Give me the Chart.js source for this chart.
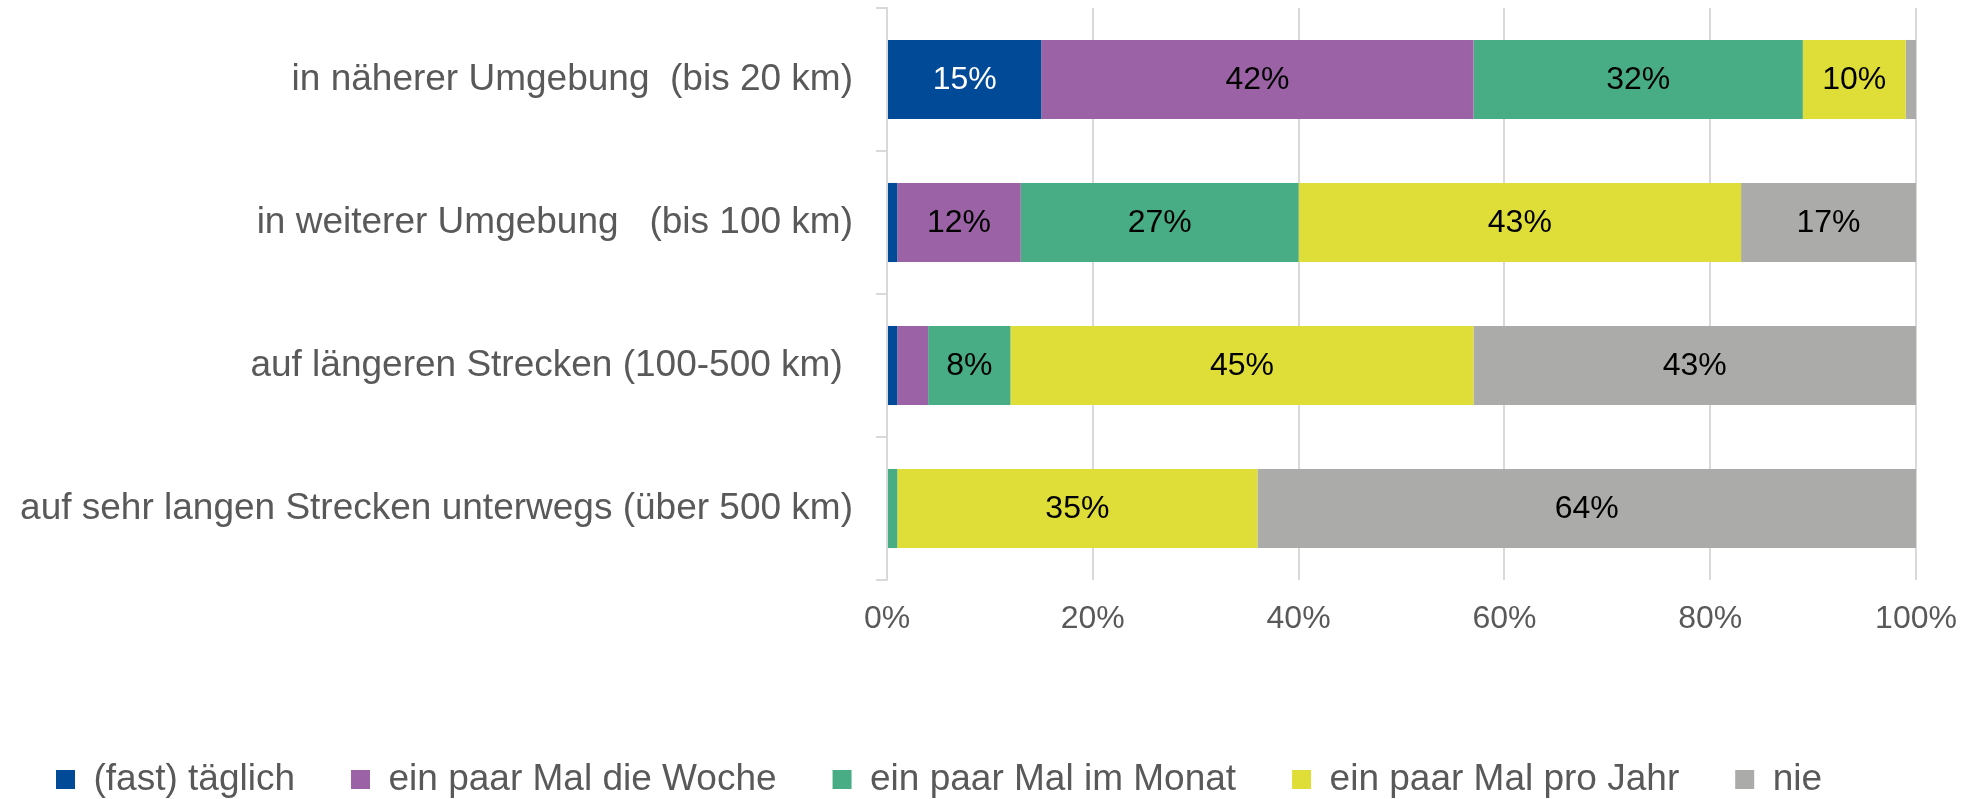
<!DOCTYPE html>
<html>
<head>
<meta charset="utf-8">
<title>Unterwegs</title>
<script src="https://cdn.jsdelivr.net/npm/chart.js@4/dist/chart.umd.min.js"></script>
<style>
    body { margin: 0; background: #ffffff; }
    canvas { display: block; }
</style>
</head>
<body>
<canvas id="chart" width="1974" height="799"></canvas>
<script>
let categories = [
    "in näherer Umgebung  (bis 20 km)",
    "in weiterer Umgebung   (bis 100 km)",
    "auf längeren Strecken (100-500 km) ",
    "auf sehr langen Strecken unterwegs (über 500 km)"
];

let seriesNames = ["(fast) täglich", "ein paar Mal die Woche", "ein paar Mal im Monat", "ein paar Mal pro Jahr", "nie"];

let taeglich = [15, 1, 1, 0];
let woche = [42, 12, 3, 0];
let monat = [32, 27, 8, 1];
let jahr = [10, 43, 45, 35];
let nie = [1, 17, 43, 64];

let xTicks = [0, 20, 40, 60, 80, 100];

let colors = ["#004a98", "#9b63a5", "#48ad85", "#dfdd37", "#abaca9"];
let labelColors = ["#ffffff", "#000000", "#000000", "#000000", "#000000"];

const fontFamily = "'Liberation Sans', Arial, sans-serif";

// draws the percent numbers in the middle of each segment
const valueLabels = {
    id: "valueLabels",
    afterDatasetsDraw(chart) {
        let ctx = chart.ctx;
        ctx.save();
        ctx.font = "32px " + fontFamily;
        ctx.textAlign = "center";
        ctx.textBaseline = "middle";
        chart.data.datasets.forEach((ds, i) => {
            chart.getDatasetMeta(i).data.forEach((bar, j) => {
                let v = ds.data[j];
                if (v < 5) return;
                let p = bar.getCenterPoint();
                ctx.fillStyle = labelColors[i];
                ctx.fillText(v + "%", p.x, p.y + 1);
            });
        });
        ctx.restore();
    }
};

function buildChart() {
    let allSeries = [taeglich, woche, monat, jahr, nie];

    let datasets = allSeries.map((values, i) => ({
        label: seriesNames[i],
        data: values,
        backgroundColor: colors[i],
        borderWidth: 0,
        barPercentage: 0.553,
        categoryPercentage: 1
    }));

    new Chart(document.getElementById("chart"), {
        type: "bar",
        data: { labels: categories, datasets: datasets },
        plugins: [valueLabels],
        options: {
            indexAxis: "y",
            responsive: false,
            animation: false,
            layout: { padding: { top: 8, right: 58, bottom: 0, left: 0 } },
            scales: {
                x: {
                    stacked: true,
                    min: 0,
                    max: 100,
                    afterBuildTicks: scale => {
                        scale.ticks = xTicks.map(v => ({ value: v }));
                    },
                    afterFit: scale => {
                        scale.height = 125;
                        scale.paddingLeft = 0;
                        scale.paddingRight = 0;
                    },
                    grid: { color: "#d9d9d9", lineWidth: 2, drawTicks: false },
                    border: { display: false },
                    ticks: {
                        padding: 20,
                        color: "#595959",
                        font: { family: fontFamily, size: 32 },
                        callback: v => v + "%"
                    }
                },
                y: {
                    stacked: true,
                    afterFit: scale => {
                        scale.width = 887;
                        scale.paddingTop = 0;
                        scale.paddingBottom = 0;
                    },
                    grid: {
                        offset: true,
                        drawOnChartArea: false,
                        tickLength: 11,
                        color: "#d9d9d9",
                        lineWidth: 2
                    },
                    border: { display: true, color: "#d9d9d9", width: 2 },
                    ticks: {
                        padding: 23,
                        color: "#595959",
                        font: { family: fontFamily, size: 37 }
                    }
                }
            },
            plugins: {
                tooltip: { enabled: false },
                legend: {
                    position: "bottom",
                    align: "start",
                    maxHeight: 94,
                    labels: {
                        boxWidth: 19,
                        boxHeight: 19,
                        padding: 56,
                        color: "#595959",
                        font: { family: fontFamily, size: 37 }
                    }
                }
            }
        }
    });
}

buildChart();
</script>
</body>
</html>
